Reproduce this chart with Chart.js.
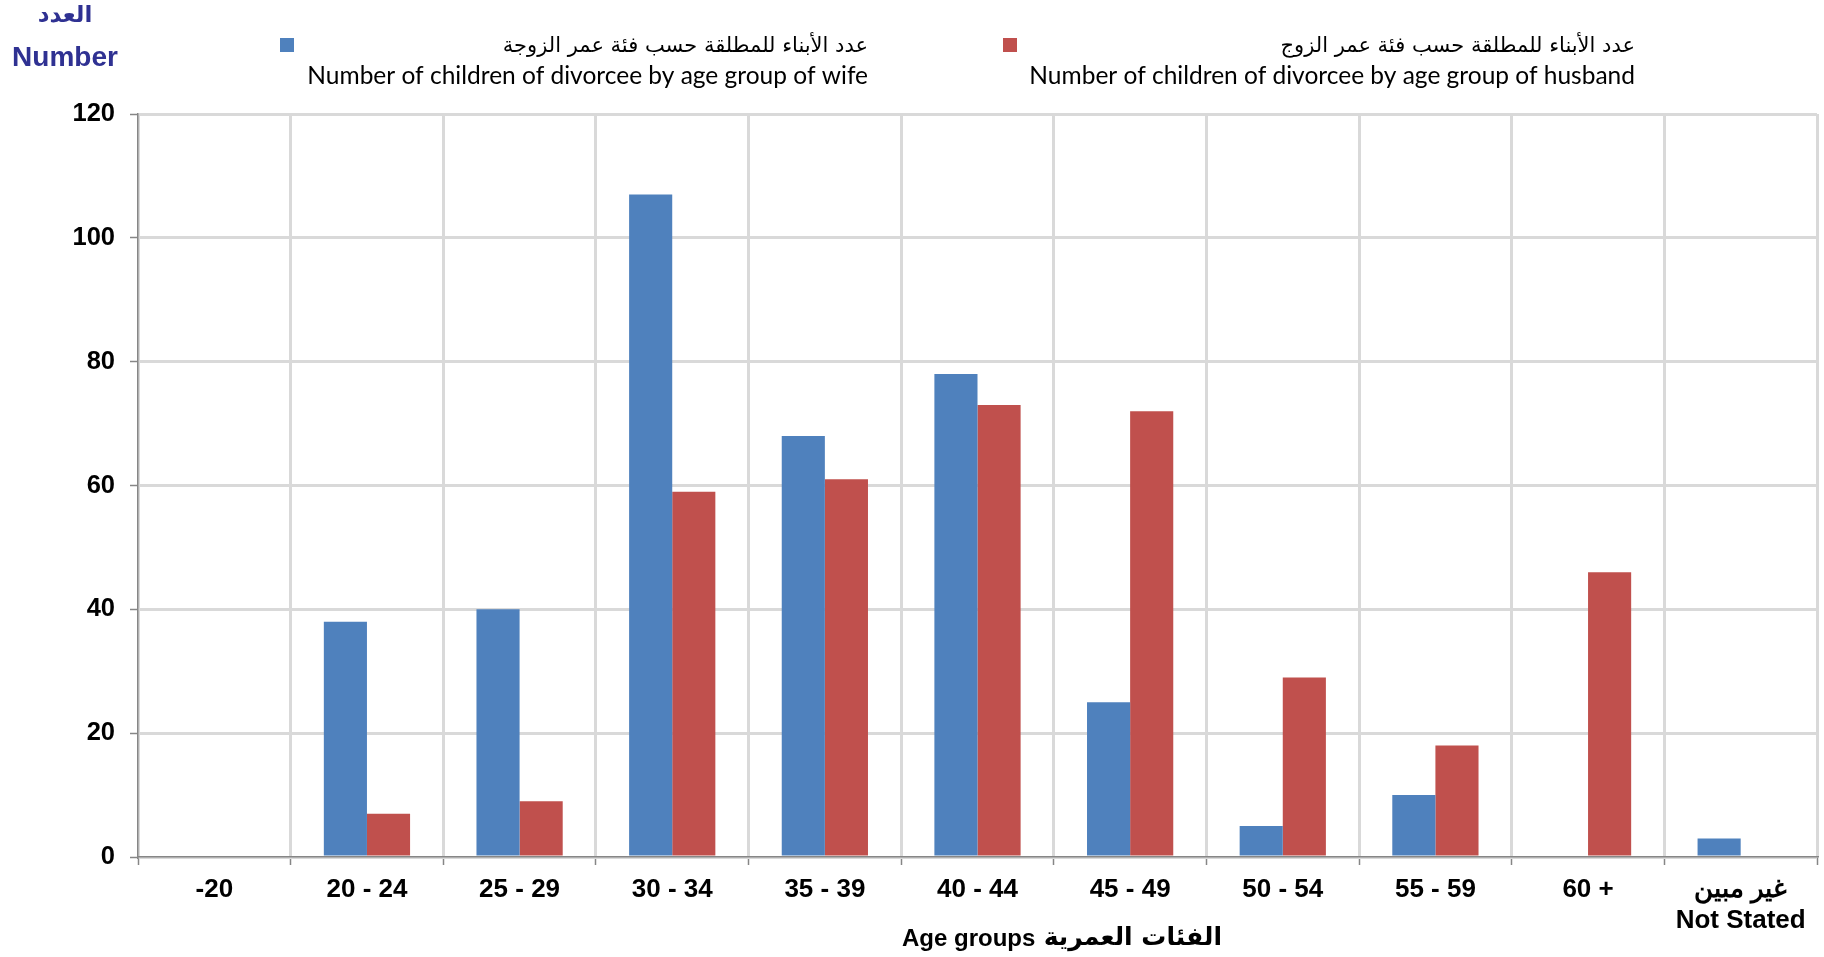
<!DOCTYPE html>
<html>
<head>
<meta charset="utf-8">
<script src="https://cdn.jsdelivr.net/npm/chart.js@4"></script>
<style>
html,body{margin:0;padding:0;background:#fff;}
#wrap{position:relative;width:1824px;height:957px;}
</style>
</head>
<body>
<div id="wrap"><canvas id="c"></canvas></div>
<script>
const categories = ['-20', '20 - 24', '25 - 29', '30 - 34', '35 - 39', '40 - 44', '45 - 49', '50 - 54', '55 - 59', '60 +', ['غير مبين', 'Not Stated']];
const wifeValues = [0, 38, 40, 107, 68, 78, 25, 5, 10, 0, 3];
const husbandValues = [0, 7, 9, 59, 61, 73, 72, 29, 18, 46, 0];
const seriesArabic = ['عدد الأبناء للمطلقة حسب فئة عمر الزوجة', 'عدد الأبناء للمطلقة حسب فئة عمر الزوج'];
const seriesEnglish = ['Number of children of divorcee by age group of wife', 'Number of children of divorcee by age group of husband'];
const seriesColors = ['#4F81BD', '#C0504D'];
const yTitleLines = ['العدد', 'Number'];
const xTitleEn = 'Age groups';
const xTitleAr = 'الفئات العمرية';
const yTicks = [0, 20, 40, 60, 80, 100, 120];

const legendPlugin = {
  id: 'customLegend',
  afterDraw(chart) {
    const ctx = chart.ctx;
    ctx.save();
    const items = [
      {sq: 280, right: 868},
      {sq: 1003, right: 1635}
    ];
    chart.data.datasets.forEach((ds, i) => {
      const it = items[i];
      ctx.fillStyle = ds.backgroundColor;
      ctx.fillRect(it.sq, 38, 14, 14);
      ctx.fillStyle = '#000';
      ctx.textAlign = 'right';
      ctx.textBaseline = 'alphabetic';
      ctx.font = '21px "DejaVu Sans", "Noto Sans"';
      ctx.fillText(seriesArabic[i], it.right, 52);
      ctx.font = '24.5px Lato, "Open Sans"';
      ctx.fillText(seriesEnglish[i], it.right, 84);
    });
    // y title
    ctx.fillStyle = '#2F3192';
    ctx.textAlign = 'center';
    ctx.textBaseline = 'middle';
    ctx.font = 'bold 23px "DejaVu Sans"';
    ctx.fillText(yTitleLines[0], 65, 16);
    ctx.font = 'bold 28px "Liberation Sans", Arial';
    ctx.fillText(yTitleLines[1], 65, 58);
    // x title
    ctx.fillStyle = '#000';
    ctx.textAlign = 'left';
    ctx.font = 'bold 24px "Liberation Sans", Arial';
    ctx.fillText(xTitleEn, 902, 939);
    ctx.textAlign = 'right';
    ctx.font = 'bold 25px "DejaVu Sans"';
    ctx.fillText(xTitleAr, 1222, 938);
    ctx.restore();
  }
};

new Chart(document.getElementById('c'), {
  type: 'bar',
  data: {
    labels: categories,
    datasets: [
      {label: seriesEnglish[0], data: wifeValues, backgroundColor: seriesColors[0], categoryPercentage: 0.565, barPercentage: 1.0},
      {label: seriesEnglish[1], data: husbandValues, backgroundColor: seriesColors[1], categoryPercentage: 0.565, barPercentage: 1.0}
    ]
  },
  options: {
    responsive: true,
    maintainAspectRatio: false,
    animation: false,
    devicePixelRatio: 1,
    layout: {padding: {left: 0, right: 7, top: 114, bottom: 0}},
    plugins: {legend: {display: false}, tooltip: {enabled: false}, title: {display: false}},
    scales: {
      x: {
        offset: true,
        grid: {offset: true, color: '#D9D9D9', lineWidth: 3, tickColor: '#868686', tickWidth: 1.5, tickLength: 8, drawTicks: true},
        border: {color: '#868686', width: 1.5},
        ticks: {color: '#000', font: {family: '"Liberation Sans", Arial', size: 26, weight: 'bold', lineHeight: 1.2}, padding: 9, maxRotation: 0, autoSkip: false},
        afterFit(scale) { scale.height = 100; }
      },
      y: {
        min: 0, max: 120,
        afterBuildTicks(scale) { scale.ticks = yTicks.map(v => ({value: v})); },
        grid: {color: '#D9D9D9', lineWidth: 3, tickColor: '#868686', tickWidth: 1.5, tickLength: 8},
        border: {color: '#868686', width: 1.5},
        ticks: {color: '#000', font: {family: '"Liberation Sans", Arial', size: 25.5, weight: 'bold'}, padding: 15},
        afterFit(scale) { scale.width = 138; }
      }
    }
  },
  plugins: [legendPlugin]
});
</script>
</body>
</html>
